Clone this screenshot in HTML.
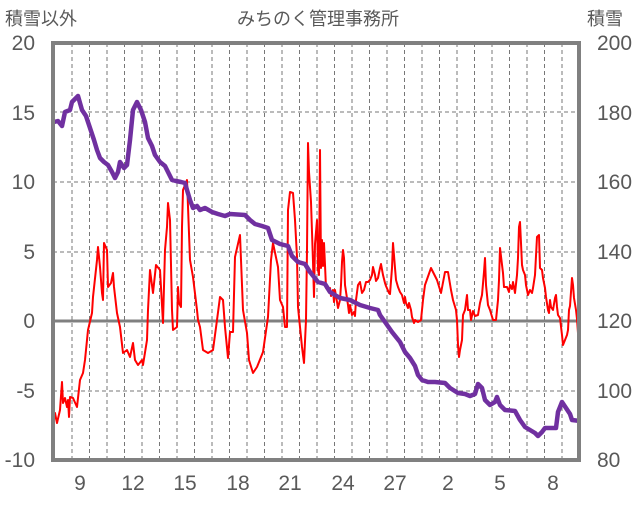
<!DOCTYPE html>
<html><head><meta charset="utf-8"><style>
html,body{margin:0;padding:0;background:#fff;}
svg text{font-family:"Liberation Sans","Noto Sans CJK JP",sans-serif;fill:#595959;}
</style></head><body>
<svg width="636" height="501" viewBox="0 0 636 501" xmlns="http://www.w3.org/2000/svg">
<rect width="636" height="501" fill="#fff"/>
<g stroke="#777" stroke-width="1" stroke-dasharray="4,3">
<line x1="53" y1="112" x2="580" y2="112"/>
<line x1="53" y1="182" x2="580" y2="182"/>
<line x1="53" y1="252" x2="580" y2="252"/>
<line x1="53" y1="391" x2="580" y2="391"/>
<line x1="72" y1="43" x2="72" y2="460"/><line x1="89.5" y1="43" x2="89.5" y2="460"/><line x1="107" y1="43" x2="107" y2="460"/><line x1="124.5" y1="43" x2="124.5" y2="460"/><line x1="142" y1="43" x2="142" y2="460"/><line x1="159.5" y1="43" x2="159.5" y2="460"/><line x1="177" y1="43" x2="177" y2="460"/><line x1="194.5" y1="43" x2="194.5" y2="460"/><line x1="212" y1="43" x2="212" y2="460"/><line x1="229.5" y1="43" x2="229.5" y2="460"/><line x1="247" y1="43" x2="247" y2="460"/><line x1="264.5" y1="43" x2="264.5" y2="460"/><line x1="282" y1="43" x2="282" y2="460"/><line x1="299.5" y1="43" x2="299.5" y2="460"/><line x1="317" y1="43" x2="317" y2="460"/><line x1="334.5" y1="43" x2="334.5" y2="460"/><line x1="352" y1="43" x2="352" y2="460"/><line x1="369.5" y1="43" x2="369.5" y2="460"/><line x1="387" y1="43" x2="387" y2="460"/><line x1="404.5" y1="43" x2="404.5" y2="460"/><line x1="422" y1="43" x2="422" y2="460"/><line x1="439.5" y1="43" x2="439.5" y2="460"/><line x1="457" y1="43" x2="457" y2="460"/><line x1="474.5" y1="43" x2="474.5" y2="460"/><line x1="492" y1="43" x2="492" y2="460"/><line x1="509.5" y1="43" x2="509.5" y2="460"/><line x1="527" y1="43" x2="527" y2="460"/><line x1="544.5" y1="43" x2="544.5" y2="460"/><line x1="562" y1="43" x2="562" y2="460"/>
</g>
<line x1="53" y1="321" x2="580" y2="321" stroke="#808080" stroke-width="3"/>
<polyline fill="none" stroke="#ff0000" stroke-width="2" stroke-linejoin="round" points="53,427 55,413 57,423 60,410 62,382 63,403 65,398 67,407 68,400 69,417 70,397 73,398 77,407 80,380 83,373 85,360 88,330 92,313 93,297 97,260 98,247 100,267 102,293 103,300 104,243 107,250 108,287 111,283 113,273 114,287 117,313 120,327 123,353 127,350 130,357 133,343 135,360 138,365 142,360 143,365 147,340 148,310 150,270 153,293 156,265 160,270 163,323 165,250 167,227 168,203 170,220 172,310 173,330 177,327 178,287 179,303 181,307 182,227 183,190 187,180 190,260 193,277 197,310 198,320 200,327 203,350 208,353 213,350 217,320 220,297 223,300 225,327 228,358 230,332 233,332 235,257 240,235 243,310 247,333 249,360 253,373 257,367 263,352 268,317 271,260 273,243 278,267 280,300 283,307 285,327 287,327 288,210 290,192 293,193 295,220 297,257 298,307 302,347 304,363 306,320 307,250 308,143 309,172 311,202 312,232 313,262 314,297 315,244 317,220 318,270 319,275 320,150 321,268 322,240 323,266 324,243 325,265 326,288 328,290 330,288 331,296 333,290 334,302 335,290 337,302 338,308 340,300 341,285 342,262 343,250 344,258 345,285 348,305 349,313 350,305 352,315 354,312 355,316 356,300 358,285 360,282 362,293 364,290 366,282 368,282 370,280 372,275 373,267 375,275 376,281 378,278 380,268 381,264 383,275 385,283 386,286 389,293 390,294 392,268 393,243 395,268 396,280 398,287 400,292 402,295 404,303 405,297 406,303 408,308 409,303 411,310 412,317 414,323 415,320 418,322 421,320 423,300 425,285 431,268 437,280 441,293 445,272 448,272 451,290 453,300 456,310 457,320 458,345 459,357 460,350 462,340 463,315 465,310 467,295 468,310 470,310 471,320 473,311 475,316 478,315 480,303 482,295 484,272 485,258 486,285 488,305 490,310 493,320 496,320 498,300 499,280 500,248 503,273 504,287 507,287 509,292 510,285 512,289 513,282 515,293 517,275 518,258 519,227 520,222 521,243 522,265 523,270 525,275 526,285 528,295 530,290 532,293 533,288 535,275 537,237 539,235 540,268 542,270 543,278 545,288 546,297 548,310 549,313 550,300 551,307 553,310 555,298 556,295 557,307 558,315 560,318 562,335 563,345 565,340 567,335 568,330 569,310 570,306 571,292 572,278 573,285 574,298 576,310 577,319 578,333"/>
<polyline fill="none" stroke="#7030a0" stroke-width="4.5" stroke-linejoin="round" points="54,122 58,121 62,126 65,112 70,110 72,102 78,96 82,110 86,116 90,128 94,140 97,150 100,158 104,162 108,165 112,172 115,178 118,172 120,162 124,168 127,165 130,140 133,110 137,102 141,110 145,122 148,138 152,146 155,155 160,162 165,166 168,172 172,180 176,181 181,182 185,183 187,190 190,200 193,208 197,206 200,210 205,208 212,212 218,214 225,216 230,214 245,215 250,220 255,224 262,226 268,228 272,240 280,244 288,246 292,256 298,262 305,264 310,272 318,282 325,284 330,292 340,298 350,300 360,305 370,308 378,310 380,315 385,322 392,332 400,342 405,352 410,358 415,366 418,375 422,380 428,382 435,382 445,383 450,388 458,393 465,394 470,396 475,394 478,384 482,388 485,400 490,405 495,402 497,397 500,405 505,410 515,411 520,420 525,427 530,430 535,433 538,436 542,432 545,428 556,428 558,412 562,402 566,408 570,414 572,420 580,421"/>
<rect x="53" y="43" width="526" height="417" fill="none" stroke="#808080" stroke-width="4"/>
<g font-size="21" text-anchor="end">
<text x="35" y="50">20</text><text x="35" y="120">15</text><text x="35" y="189">10</text><text x="35" y="259">5</text><text x="35" y="328">0</text><text x="35" y="398">-5</text><text x="35" y="467">-10</text>
</g>
<g font-size="21" text-anchor="start">
<text x="597" y="50">200</text><text x="597" y="189">160</text><text x="597" y="120">180</text><text x="597" y="259">140</text><text x="597" y="328">120</text><text x="597" y="398">100</text><text x="597" y="467">80</text>
</g>
<g font-size="21" text-anchor="middle">
<text x="80" y="490">9</text><text x="133" y="490">12</text><text x="185" y="490">15</text><text x="238" y="490">18</text><text x="290" y="490">21</text><text x="343" y="490">24</text><text x="395" y="490">27</text><text x="448" y="490">2</text><text x="500" y="490">5</text><text x="553" y="490">8</text>
</g>
<text x="5" y="25" font-size="18">積雪以外</text>
<text x="318" y="25" font-size="18" text-anchor="middle">みちのく管理事務所</text>
<text x="587" y="25" font-size="18">積雪</text>
</svg>
</body></html>
